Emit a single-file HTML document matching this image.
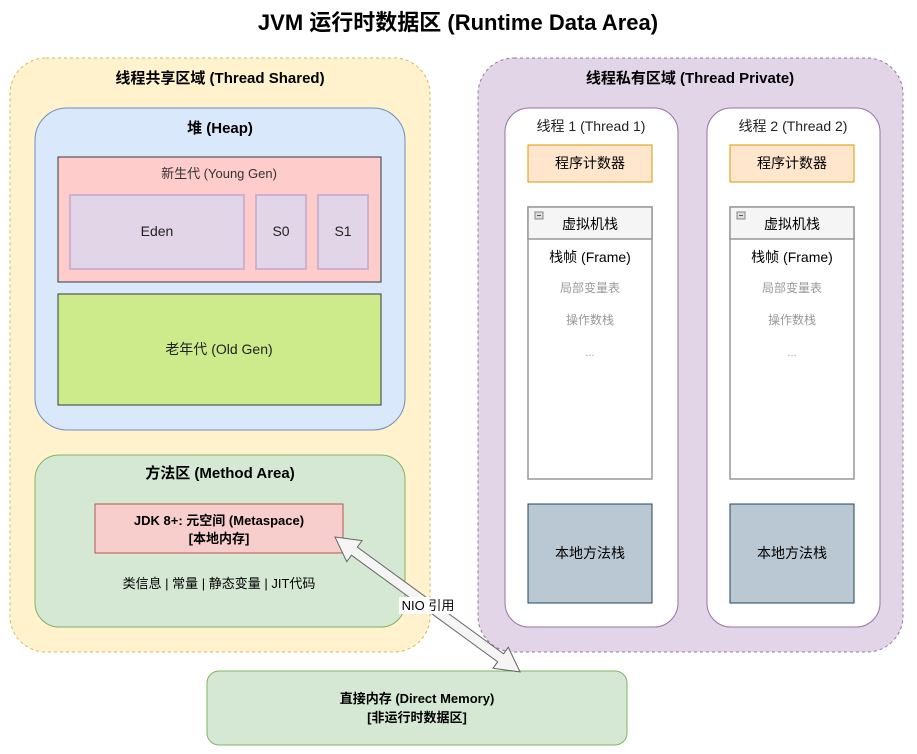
<!DOCTYPE html>
<html><head><meta charset="utf-8"><style>
html,body{margin:0;padding:0;background:#fff;}
svg{display:block;font-family:"Liberation Sans","Noto Sans CJK SC",sans-serif;}
</style></head><body>
<svg width="917" height="754" viewBox="0 0 917 754" xmlns="http://www.w3.org/2000/svg">
<text x="458" y="30" text-anchor="middle" font-size="22" font-weight="bold" fill="#000">JVM 运行时数据区 (Runtime Data Area)</text>

<!-- Shared -->
<rect x="10" y="58" width="420" height="594" rx="36" fill="#fff2cc" stroke="#d6b656" stroke-dasharray="3,3"/>
<text x="220" y="83" text-anchor="middle" font-size="15" font-weight="bold">线程共享区域 (Thread Shared)</text>
<rect x="35" y="108" width="370" height="322" rx="32" fill="#dae8fc" stroke="#6c8ebf"/>
<text x="220" y="133" text-anchor="middle" font-size="15" font-weight="bold">堆 (Heap)</text>
<rect x="58" y="157" width="323" height="125" fill="#ffcccc" stroke="#36393d"/>
<text x="219" y="178" text-anchor="middle" font-size="13" fill="#333">新生代 (Young Gen)</text>
<rect x="70" y="195" width="174" height="74" fill="#e1d5e7" stroke="#c3a5cf" stroke-width="1.5"/>
<text x="157" y="236" text-anchor="middle" font-size="14" fill="#222">Eden</text>
<rect x="256" y="195" width="50" height="74" fill="#e1d5e7" stroke="#c3a5cf" stroke-width="1.5"/>
<text x="281" y="236" text-anchor="middle" font-size="14" fill="#222">S0</text>
<rect x="318" y="195" width="50" height="74" fill="#e1d5e7" stroke="#c3a5cf" stroke-width="1.5"/>
<text x="343" y="236" text-anchor="middle" font-size="14" fill="#222">S1</text>
<rect x="58" y="294" width="323" height="111" fill="#cdeb8b" stroke="#36393d"/>
<text x="219" y="354" text-anchor="middle" font-size="14" fill="#222">老年代 (Old Gen)</text>

<rect x="35" y="455" width="370" height="172" rx="24" fill="#d5e8d4" stroke="#82b366"/>
<text x="220" y="478" text-anchor="middle" font-size="15" font-weight="bold">方法区 (Method Area)</text>
<rect x="95" y="504" width="248" height="49" fill="#f8cecc" stroke="#b85450"/>
<text x="219" y="525" text-anchor="middle" font-size="13" font-weight="bold">JDK 8+: 元空间 (Metaspace)</text>
<text x="219" y="543" text-anchor="middle" font-size="13" font-weight="bold">[本地内存]</text>
<text x="219" y="588" text-anchor="middle" font-size="13">类信息 | 常量 | 静态变量 | JIT代码</text>

<!-- Private -->
<rect x="478" y="58" width="425" height="594" rx="36" fill="#e1d5e7" stroke="#9673a6" stroke-dasharray="3,3"/>
<text x="690" y="83" text-anchor="middle" font-size="15" font-weight="bold">线程私有区域 (Thread Private)</text>

<g>
<rect x="505" y="108" width="173" height="519" rx="24" fill="#fff" stroke="#9673a6"/>
<text x="591" y="131" text-anchor="middle" font-size="14" fill="#222">线程 1 (Thread 1)</text>
<rect x="528" y="145" width="124" height="37" fill="#ffe6cc" stroke="#d79b00"/>
<text x="590" y="168" text-anchor="middle" font-size="14">程序计数器</text>
<rect x="528" y="207" width="124" height="272" fill="#fff" stroke="#999" stroke-width="1.5"/>
<rect x="528" y="207" width="124" height="32" fill="#f5f5f5" stroke="#999" stroke-width="1.5"/>
<rect x="535" y="212" width="8" height="7" fill="#ddd" stroke="#888"/>
<line x1="537" y1="215.5" x2="541" y2="215.5" stroke="#555"/>
<text x="590" y="229" text-anchor="middle" font-size="14">虚拟机栈</text>
<text x="590" y="262" text-anchor="middle" font-size="14">栈帧 (Frame)</text>
<text x="590" y="292" text-anchor="middle" font-size="12" fill="#999">局部变量表</text>
<text x="590" y="324" text-anchor="middle" font-size="12" fill="#999">操作数栈</text>
<text x="590" y="356" text-anchor="middle" font-size="11" fill="#999">...</text>
<rect x="528" y="504" width="124" height="99" fill="#bac8d3" stroke="#23445d"/>
<text x="590" y="558" text-anchor="middle" font-size="14">本地方法栈</text>
</g>
<g transform="translate(202,0)">
<rect x="505" y="108" width="173" height="519" rx="24" fill="#fff" stroke="#9673a6"/>
<text x="591" y="131" text-anchor="middle" font-size="14" fill="#222">线程 2 (Thread 2)</text>
<rect x="528" y="145" width="124" height="37" fill="#ffe6cc" stroke="#d79b00"/>
<text x="590" y="168" text-anchor="middle" font-size="14">程序计数器</text>
<rect x="528" y="207" width="124" height="272" fill="#fff" stroke="#999" stroke-width="1.5"/>
<rect x="528" y="207" width="124" height="32" fill="#f5f5f5" stroke="#999" stroke-width="1.5"/>
<rect x="535" y="212" width="8" height="7" fill="#ddd" stroke="#888"/>
<line x1="537" y1="215.5" x2="541" y2="215.5" stroke="#555"/>
<text x="590" y="229" text-anchor="middle" font-size="14">虚拟机栈</text>
<text x="590" y="262" text-anchor="middle" font-size="14">栈帧 (Frame)</text>
<text x="590" y="292" text-anchor="middle" font-size="12" fill="#999">局部变量表</text>
<text x="590" y="324" text-anchor="middle" font-size="12" fill="#999">操作数栈</text>
<text x="590" y="356" text-anchor="middle" font-size="11" fill="#999">...</text>
<rect x="528" y="504" width="124" height="99" fill="#bac8d3" stroke="#23445d"/>
<text x="590" y="558" text-anchor="middle" font-size="14">本地方法栈</text>
</g>

<!-- Direct memory -->
<rect x="207" y="671" width="420" height="74" rx="12" fill="#d5e8d4" stroke="#82b366"/>
<text x="417" y="703" text-anchor="middle" font-size="13" font-weight="bold">直接内存 (Direct Memory)</text>
<text x="417" y="722" text-anchor="middle" font-size="13" font-weight="bold">[非运行时数据区]</text>

<!-- Arrow -->
<polygon transform="translate(335,537) rotate(36.1)" points="0,0 24,-13 24,-5 205,-5 205,-13 229,0 205,13 205,5 24,5 24,13" fill="#f5f5f5" stroke="#666" stroke-linejoin="miter"/>
<rect x="399" y="597" width="58" height="17" fill="#fff"/>
<text x="428" y="610" text-anchor="middle" font-size="13">NIO 引用</text>
</svg>
</body></html>
